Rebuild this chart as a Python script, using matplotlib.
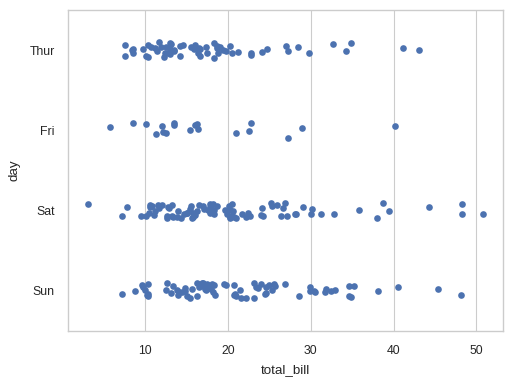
import numpy as np
import pandas as pd
import seaborn as sns
import matplotlib
matplotlib.use("Agg")
import matplotlib.pyplot as plt

days = ["Thur", "Fri", "Sat", "Sun"]

thur_bills = [27.20, 22.76, 17.29, 19.44, 16.66, 10.07, 32.68, 15.98, 34.83, 13.03,
              18.28, 24.71, 21.16, 10.65, 12.43, 24.08, 11.69, 13.42, 14.26, 15.95,
              12.48, 29.80, 8.52, 14.52, 11.38, 22.82, 19.08, 20.27, 11.17, 12.26,
              18.26, 8.51, 10.33, 14.15, 16.00, 13.16, 17.47, 34.30, 41.19, 27.05,
              16.43, 8.35, 18.64, 11.87, 9.78, 7.51, 19.81, 28.44, 15.48, 16.58,
              7.56, 10.34, 43.11, 13.00, 13.51, 18.71, 12.74, 13.00, 16.40, 20.53,
              16.47, 18.78]
fri_bills = [28.97, 22.49, 5.75, 16.32, 22.75, 40.17, 27.28, 12.03, 21.01, 12.46,
             11.35, 15.38, 12.16, 13.42, 8.58, 15.98, 13.42, 16.27, 10.09]
sat_bills = [20.65, 17.92, 20.29, 15.77, 39.42, 19.82, 17.81, 13.37, 12.69, 21.70,
             19.65, 9.55, 18.35, 15.06, 20.69, 17.78, 24.06, 16.31, 16.93, 18.69,
             31.27, 16.04, 38.01, 26.41, 11.24, 48.27, 20.29, 13.81, 11.02, 18.29,
             17.59, 20.08, 16.45, 3.07, 20.23, 15.01, 12.02, 17.07, 26.86, 25.28,
             14.73, 10.51, 17.92, 44.30, 22.42, 20.92, 15.36, 20.49, 25.21, 18.24,
             14.31, 14.00, 7.25, 10.59, 10.63, 50.81, 15.81, 26.59, 38.73, 24.27,
             12.76, 30.06, 25.89, 48.33, 13.27, 28.17, 12.90, 28.15, 11.59, 7.74,
             30.14, 20.45, 13.28, 22.12, 24.01, 15.69, 11.61, 10.77, 15.53, 10.07,
             12.60, 32.83, 35.83, 29.03, 27.18, 22.67, 17.82]
sun_bills = [16.99, 10.34, 21.01, 23.68, 24.59, 25.29, 8.77, 26.88, 15.04, 14.78,
             10.27, 35.26, 15.42, 18.43, 14.83, 21.58, 10.33, 16.29, 16.97, 17.46,
             13.94, 9.68, 30.40, 18.29, 22.23, 32.40, 28.55, 18.04, 12.54, 10.29,
             34.81, 9.94, 25.56, 19.49, 38.07, 23.95, 25.71, 17.31, 29.93, 14.07,
             13.13, 17.26, 24.55, 19.77, 29.85, 48.17, 25.00, 13.39, 16.49, 21.50,
             12.66, 16.21, 13.81, 17.51, 24.52, 20.76, 31.71, 7.25, 31.85, 16.82,
             32.90, 17.89, 14.48, 9.60, 34.63, 34.65, 23.33, 45.35, 23.17, 40.55,
             20.69, 20.90, 30.46, 18.15, 23.10, 15.69]

tips = pd.DataFrame({
    "total_bill": thur_bills + fri_bills + sat_bills + sun_bills,
    "day": (["Thur"] * len(thur_bills) + ["Fri"] * len(fri_bills)
            + ["Sat"] * len(sat_bills) + ["Sun"] * len(sun_bills)),
})

sns.set_theme(style="whitegrid")
plt.rcParams["font.family"] = ["Liberation Sans", "DejaVu Sans"]
np.random.seed(3)

fig, ax = plt.subplots(figsize=(6.4, 4.8125), dpi=80)
fig.subplots_adjust(left=0.133, right=0.982, top=0.974, bottom=0.141)
sns.stripplot(data=tips, x="total_bill", y="day", order=days, size=6, ax=ax)

# labels sit a bit further from the axes in the reference
ax.tick_params(axis="x", pad=7)
ax.tick_params(axis="y", pad=6)
ax.set_xlabel("total_bill", labelpad=6.5)
ax.set_ylabel("day", labelpad=8)

fig.savefig("out.png", dpi=80)
